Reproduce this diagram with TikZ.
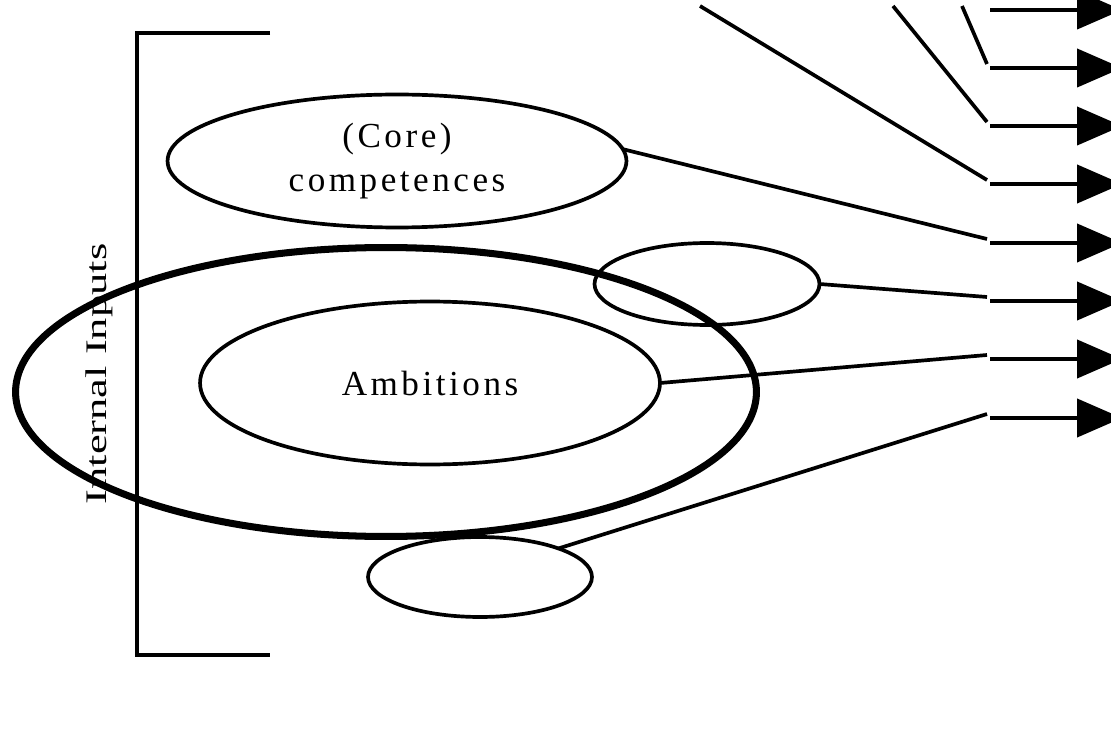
\documentclass[tikz,border=0pt]{standalone}
\usepackage{fontspec}
\setmainfont{Liberation Serif}
\newfontfamily\spacedfont{Liberation Serif}[LetterSpace=10]
\usetikzlibrary{arrows.meta,shapes.geometric}
\tikzset{
	oval/.style={draw, ellipse, line width=2.1pt, inner sep=0pt, outer sep=0pt, align=center, font=\spacedfont\fontsize{20}{25}\selectfont},
	feed/.style={line width=2.1pt},
	outarrow/.style={line width=2.4pt, -{Triangle[length=0.9cm, width=0.76cm]}}
}

\begin{document}
\begin{tikzpicture}[x=0.02cm, y=-0.02cm]
	%%%%% START %%%%%
	\useasboundingbox (0, 0) rectangle (1111, 746);
	
	\draw[line width=2.1pt] (270, 33) -- (137, 33) -- (137, 655) -- (270, 655);
	\node[rotate=90] (inputs) at (99, 374) {\fontsize{17}{20}\selectfont\scalebox{1.49}[1]{Internal Inputs}};
	
	\node[oval, line width=4pt, minimum width=14.82cm, minimum height=5.78cm] (outer) at (386, 392) {};
	\node[oval, minimum width=9.18cm, minimum height=2.66cm] (core) at (397, 161) {(Core)\\competences};
	\node[oval, minimum width=9.2cm, minimum height=3.26cm] (amb) at (430, 383) {Ambitions};
	\node[oval, minimum width=4.5cm, minimum height=1.64cm] (upper) at (707, 284) {};
	\node[oval, minimum width=4.48cm, minimum height=1.6cm] (lower) at (480, 577) {};
	
	\foreach \r/\y in {0/10, 1/68, 2/126, 3/184, 4/243, 5/301, 6/359, 7/418} {
		\coordinate (s\r) at (990, \y);
		\coordinate (j\r) at (987, \y-4);
		\coordinate (e\r) at (1122, \y);
		\draw[outarrow] (s\r) -- (e\r);
	}
	
	\coordinate (t1) at (962, 6);
	\coordinate (t2) at (893, 6);
	\coordinate (t3) at (700, 6);
	
	\draw[feed] (t1) -- (j1);
	\draw[feed] (t2) -- (j2);
	\draw[feed] (t3) -- (j3);
	\draw[feed] (core.3) -- (j4);
	\draw[feed] (upper.east) -- (j5);
	\draw[feed] (amb.east) -- (j6);
	\draw[feed] (lower.20) -- (j7);
	
	%%%%% END %%%%%
\end{tikzpicture}
\end{document}
